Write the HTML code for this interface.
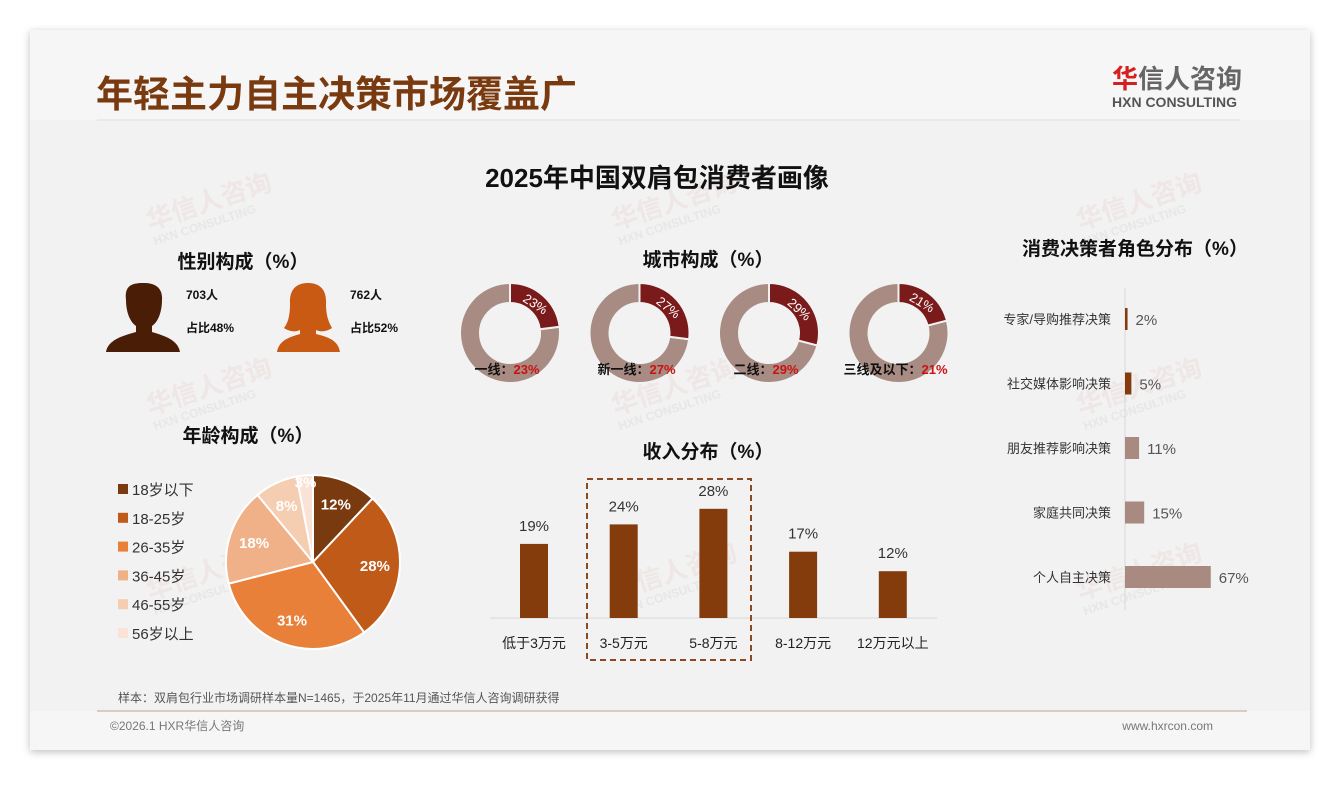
<!DOCTYPE html>
<html><head><meta charset="utf-8">
<style>
html,body{margin:0;padding:0;background:#fff;}
body{width:1340px;height:780px;overflow:hidden;font-family:"Liberation Sans","Noto Sans CJK SC",sans-serif;}
svg text{font-family:"Liberation Sans","Noto Sans CJK SC",sans-serif;}
</style></head>
<body>
<svg id="chart" width="1340" height="780" viewBox="0 0 1340 780" xmlns="http://www.w3.org/2000/svg">
<defs><filter id="sh" x="-5%" y="-5%" width="110%" height="110%"><feDropShadow dx="0" dy="2" stdDeviation="4" flood-color="#000" flood-opacity="0.25"/></filter></defs>
<rect x="30" y="30" width="1280" height="720" fill="#f2f2f2" filter="url(#sh)"/>
<rect x="30" y="30" width="1280" height="90" fill="#f6f6f6"/>
<rect x="30" y="711" width="1280" height="39" fill="#f6f6f6"/>
<g fill="#e8c8c8" opacity="0.3" font-weight="bold">
<g transform="translate(150,230) rotate(-18)"><text font-size="26">华信人咨询</text><text y="16" font-size="12" fill="#ccc">HXN CONSULTING</text></g>
<g transform="translate(615,230) rotate(-18)"><text font-size="26">华信人咨询</text><text y="16" font-size="12" fill="#ccc">HXN CONSULTING</text></g>
<g transform="translate(1080,230) rotate(-18)"><text font-size="26">华信人咨询</text><text y="16" font-size="12" fill="#ccc">HXN CONSULTING</text></g>
<g transform="translate(150,415) rotate(-18)"><text font-size="26">华信人咨询</text><text y="16" font-size="12" fill="#ccc">HXN CONSULTING</text></g>
<g transform="translate(615,415) rotate(-18)"><text font-size="26">华信人咨询</text><text y="16" font-size="12" fill="#ccc">HXN CONSULTING</text></g>
<g transform="translate(1080,415) rotate(-18)"><text font-size="26">华信人咨询</text><text y="16" font-size="12" fill="#ccc">HXN CONSULTING</text></g>
<g transform="translate(150,600) rotate(-18)"><text font-size="26">华信人咨询</text><text y="16" font-size="12" fill="#ccc">HXN CONSULTING</text></g>
<g transform="translate(615,600) rotate(-18)"><text font-size="26">华信人咨询</text><text y="16" font-size="12" fill="#ccc">HXN CONSULTING</text></g>
<g transform="translate(1080,600) rotate(-18)"><text font-size="26">华信人咨询</text><text y="16" font-size="12" fill="#ccc">HXN CONSULTING</text></g>
</g>
<text x="96" y="107" font-size="37" font-weight="bold" fill="#7a3a10">年轻主力自主决策市场覆盖广</text>
<g>
<text x="1112" y="88" font-size="26" font-weight="bold" fill="#666"><tspan fill="#d42020">华</tspan>信人咨询</text>
<text x="1112" y="107" font-size="14" font-weight="bold" fill="#555">HXN CONSULTING</text>
</g>
<line x1="97" y1="120" x2="1240" y2="120" stroke="#ddd" stroke-width="1"/>
<text x="657" y="187" font-size="26" font-weight="bold" fill="#111" text-anchor="middle">2025年中国双肩包消费者画像</text>

<text x="243" y="268" font-size="19" font-weight="bold" fill="#111" text-anchor="middle">性别构成（%）</text>
<g fill="#4a1e06">
<path d="M126,300 C124,284 134,283 144,283 C154,283 163,287 162,300 C162,312 158,322 152,326 L152,332 C165,336 178,340 180,352 L106,352 C108,340 122,336 136,332 L136,326 C130,322 126,312 126,300 Z"/>
</g>
<text x="186" y="299" font-size="12" font-weight="bold" fill="#111">703人</text>
<text x="186" y="332" font-size="12" font-weight="bold" fill="#111">占比48%</text>
<g fill="#c85a14">
<path d="M290,304 C289,288 298,283 308,283 C318,283 327,288 326,304 C326,318 330,324 332,328 C326,332 320,332 316,330 L316,334 C328,337 338,340 340,352 L277,352 C279,340 290,337 300,334 L300,330 C296,332 290,332 284,328 C287,324 290,318 290,304 Z"/>
</g>
<text x="350" y="299" font-size="12" font-weight="bold" fill="#111">762人</text>
<text x="350" y="332" font-size="12" font-weight="bold" fill="#111">占比52%</text>

<text x="708" y="266" font-size="19" font-weight="bold" fill="#111" text-anchor="middle">城市构成（%）</text>
<g id="donuts"></g>

<text x="248" y="442" font-size="19" font-weight="bold" fill="#111" text-anchor="middle">年龄构成（%）</text>
<g id="pie"></g>

<text x="708" y="458" font-size="19" font-weight="bold" fill="#111" text-anchor="middle">收入分布（%）</text>
<g id="income"></g>
<rect x="587" y="479" width="164" height="181" fill="none" stroke="#8b4a20" stroke-width="2" stroke-dasharray="6,4"/>

<text x="1135" y="255" font-size="19" font-weight="bold" fill="#111" text-anchor="middle">消费决策者角色分布（%）</text>
<g id="roles"></g>

<text x="118" y="702" font-size="12" fill="#555">样本：双肩包行业市场调研样本量N=1465，于2025年11月通过华信人咨询调研获得</text>
<line x1="97" y1="711" x2="1247" y2="711" stroke="#c8a080" stroke-width="1"/>
<text x="110" y="730" font-size="12" fill="#777">©2026.1 HXR华信人咨询</text>
<text x="1213" y="730" font-size="12" fill="#777" text-anchor="end">www.hxrcon.com</text>
</svg>
<script>
const NS="http://www.w3.org/2000/svg";
const cityNames=["一线","新一线","二线","三线及以下"];
const cityValues=[23,27,29,21];
const ageLabels=["18岁以下","18-25岁","26-35岁","36-45岁","46-55岁","56岁以上"];
const ageValues=[12,28,31,18,8,3];
const incomeCats=["低于3万元","3-5万元","5-8万元","8-12万元","12万元以上"];
const incomeValues=[19,24,28,17,12];
const roleCats=["专家/导购推荐决策","社交媒体影响决策","朋友推荐影响决策","家庭共同决策","个人自主决策"];
const roleValues=[2,5,11,15,67];

function mk(tag,attrs,parent,txt){const e=document.createElementNS(NS,tag);for(const k in attrs)e.setAttribute(k,attrs[k]);if(txt!==undefined)e.textContent=txt;parent.appendChild(e);return e;}
function pt(cx,cy,r,a){return [cx+r*Math.sin(a),cy-r*Math.cos(a)];}
function arcPath(cx,cy,r0,r1,a0,a1){const L=(a1-a0)>Math.PI?1:0;const p1=pt(cx,cy,r1,a0),p2=pt(cx,cy,r1,a1);
 if(r0===0)return `M${cx},${cy}L${p1}A${r1},${r1} 0 ${L} 1 ${p2}Z`;
 const p3=pt(cx,cy,r0,a1),p4=pt(cx,cy,r0,a0);return `M${p1}A${r1},${r1} 0 ${L} 1 ${p2}L${p3}A${r0},${r0} 0 ${L} 0 ${p4}Z`;}

const dg=document.getElementById('donuts');
const dX=i=>510+i*129.5, dY=333, R1=50, R0=30;
cityValues.forEach((v,i)=>{
 const cx=dX(i), a=v/100*2*Math.PI;
 const g=mk('g',{},dg);
 
 
 const rest=mk('path',{d:arcPath(cx,dY,R0,R1,a,2*Math.PI),fill:'#a88c84',stroke:'#f2f2f2','stroke-width':2},g);
 
 
 const s=mk('path',{d:arcPath(cx,dY,R0,R1,0,a),fill:'#7a1a1a',stroke:'#f2f2f2','stroke-width':2},g);
 
 
 const [lx,ly]=pt(cx,dY,38,a/2);
 const deg=a/2*180/Math.PI;
 const t=mk('text',{x:lx,y:ly+4,'font-size':13,fill:'#fff','text-anchor':'middle'},g,v+'%');
 t.setAttribute('transform',`rotate(${deg*0.8} ${lx} ${ly})`);
 
 
 const lab=mk('text',{x:cx-3,y:374,'font-size':13,'font-weight':'bold',fill:'#111','text-anchor':'middle'},g);
 
 
 mk('tspan',{},lab,cityNames[i]+'：');
 mk('tspan',{fill:'#cc1111'},lab,v+'%');
});

const pg=document.getElementById('pie');
const pc=['#7a3a10','#c05a18','#e8803a','#f0b088','#f5cdb0','#fae3d6'];
const PX=313,PY=562,PR=87;
const tot=ageValues.reduce((a,b)=>a+b,0);
let acc=0;
ageValues.forEach((v,i)=>{
 const a0=acc/tot*2*Math.PI; acc+=v; const a1=acc/tot*2*Math.PI;
 const s=mk('path',{d:arcPath(PX,PY,0,PR,a0,a1),fill:pc[i],stroke:'#fff','stroke-width':2},pg);
 
 
 const [lx,ly]=pt(PX,PY,v<5?80:62,(a0+a1)/2);
 const t=mk('text',{x:lx,y:ly+5,'font-size':15,'font-weight':'bold',fill:'#fff','text-anchor':'middle'},pg,v+'%');
 
 
 const ly2=490+i*28.8;
 const sq=mk('rect',{x:118,y:ly2-6,width:10,height:10,fill:pc[i]},pg);
 
 
 const lt=mk('text',{x:132,y:ly2+5,'font-size':15,fill:'#333'},pg,ageLabels[i]);
 
 
});

const ig=document.getElementById('income');
const iX=i=>534+i*89.7, base=618, ky=3.9, bw=28;
const ax=mk('line',{x1:490,x2:937,y1:base,y2:base,stroke:'#d8d8d8','stroke-width':1},ig);


incomeValues.forEach((v,i)=>{
 const h=v*ky;
 const b=mk('rect',{x:iX(i)-bw/2,y:base-h,width:bw,height:h,fill:'#843c0c'},ig);
 
 
 const t=mk('text',{x:iX(i),y:base-h-13,'font-size':15,fill:'#333','text-anchor':'middle'},ig,v+'%');
 
 
 const c=mk('text',{x:iX(i),y:648,'font-size':14,fill:'#222','text-anchor':'middle'},ig,incomeCats[i]);
 
 
});

const rg=document.getElementById('roles');
const rY=i=>319+i*64.5, rx0=1125, kx=1.28;
const ra=mk('line',{x1:rx0,x2:rx0,y1:288,y2:610,stroke:'#d8d8d8','stroke-width':1},rg);


roleValues.forEach((v,i)=>{
 const w=v*kx, y=rY(i);
 const b=mk('rect',{x:rx0,y:y-11,width:w,height:22,fill:v<=5?'#843c0c':'#a88a80'},rg);
 
 
 const c=mk('text',{x:1111,y:y+5,'font-size':13,fill:'#333','text-anchor':'end'},rg,roleCats[i]);
 
 
 const t=mk('text',{x:rx0+w+8,y:y+6,'font-size':15,fill:'#555'},rg,v+'%');
 
 
});
</script>
</body></html>
